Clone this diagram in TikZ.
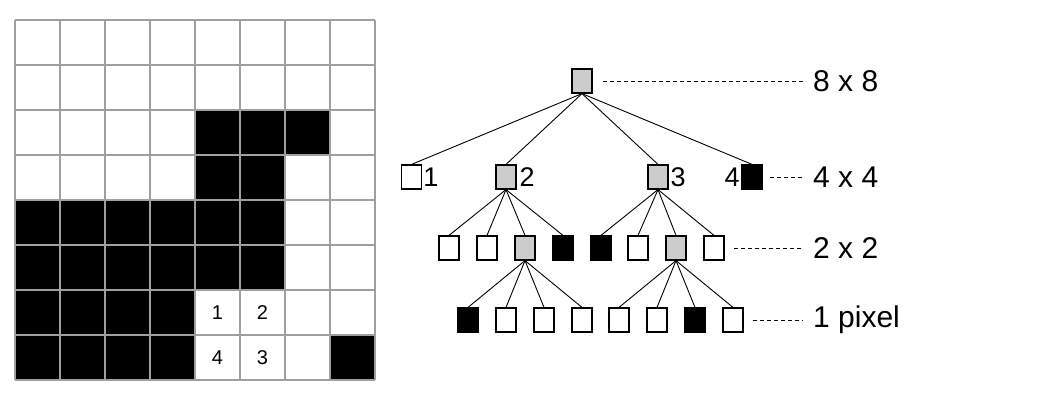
\documentclass[tikz,border=0pt]{standalone}
\usepackage{fontspec}
\setmainfont{Liberation Sans}
\begin{document}
\begin{tikzpicture}[x=1pt,y=-1pt,
  box/.style={draw=black,line width=1.2pt,minimum width=20pt,minimum height=24pt,inner sep=0pt},
  wb/.style={box,fill=white}, gb/.style={box,fill=gray!40}, bb/.style={box,fill=black},
  edge/.style={line width=0.9pt},
  dashln/.style={line width=0.9pt,dash pattern=on 4pt off 3pt},
  lvl/.style={font=\fontsize{30}{32}\selectfont,anchor=west,inner sep=0pt},
  num/.style={font=\fontsize{27}{29}\selectfont,inner sep=0pt},
  cell/.style={font=\fontsize{20}{22}\selectfont},
  gridln/.style={draw=gray!75,line width=1.5pt}]
\useasboundingbox (0,0) rectangle (1062,402);
% grid
\foreach \r/\c in {2/4,2/5,2/6,3/4,3/5,4/0,4/1,4/2,4/3,4/4,4/5,5/0,5/1,5/2,5/3,5/4,5/5,6/0,6/1,6/2,6/3,7/0,7/1,7/2,7/3,7/7}
  \fill (15+45*\c,20+45*\r) rectangle ++(45,45);
\foreach \i in {0,...,8} {
  \draw[gridln] (15+45*\i,20) -- (15+45*\i,380);
  \draw[gridln] (15,20+45*\i) -- (375,20+45*\i);
}
\node[cell] (g1) at (217.5,312.5) {1};
\node[cell] (g2) at (262.5,312.5) {2};
\node[cell] (g4) at (217.5,357.5) {4};
\node[cell] (g3) at (262.5,357.5) {3};
% tree
\node[gb] (r) at (582,81) {};
\node[wb] (a1) at (411.5,177) {};
\node[gb] (a2) at (506,177) {};
\node[gb] (a3) at (658,177) {};
\node[bb] (a4) at (752,177) {};
\node[num] (l1) at (431,177) {1};
\node[num] (l2) at (527,177) {2};
\node[num] (l3) at (678,177) {3};
\node[num] (l4) at (732,177) {4};
\foreach \n/\x/\s in {1/449/wb,2/487/wb,3/525/gb,4/563/bb,5/601/bb,6/638/wb,7/676/gb,8/714/wb}
  \node[\s] (b\n) at (\x,248) {};
\foreach \n/\x/\s in {1/468/bb,2/506/wb,3/544/wb,4/582/wb,5/619/wb,6/657/wb,7/695/bb,8/733/wb}
  \node[\s] (c\n) at (\x,320) {};
\foreach \k in {1,...,4} \draw[edge] (r.south) -- (a\k.north);
\foreach \k in {1,...,4} \draw[edge] (a2.south) -- (b\k.north);
\foreach \k in {5,...,8} \draw[edge] (a3.south) -- (b\k.north);
\foreach \k in {1,...,4} \draw[edge] (b3.south) -- (c\k.north);
\foreach \k in {5,...,8} \draw[edge] (b7.south) -- (c\k.north);
% level labels
\node[lvl] (t1) at (813,81) {8 x 8};
\node[lvl] (t2) at (813,177) {4 x 4};
\node[lvl] (t3) at (813,248) {2 x 2};
\node[lvl] (t4) at (813,320) {1 pixel};
\draw[dashln] (603,81) -- ([xshift=-10pt]t1.west);
\draw[dashln] (770,177) -- ([xshift=-10pt]t2.west);
\draw[dashln] (734,248) -- ([xshift=-10pt]t3.west);
\draw[dashln] (753,320) -- ([xshift=-10pt]t4.west);
\end{tikzpicture}
\end{document}
